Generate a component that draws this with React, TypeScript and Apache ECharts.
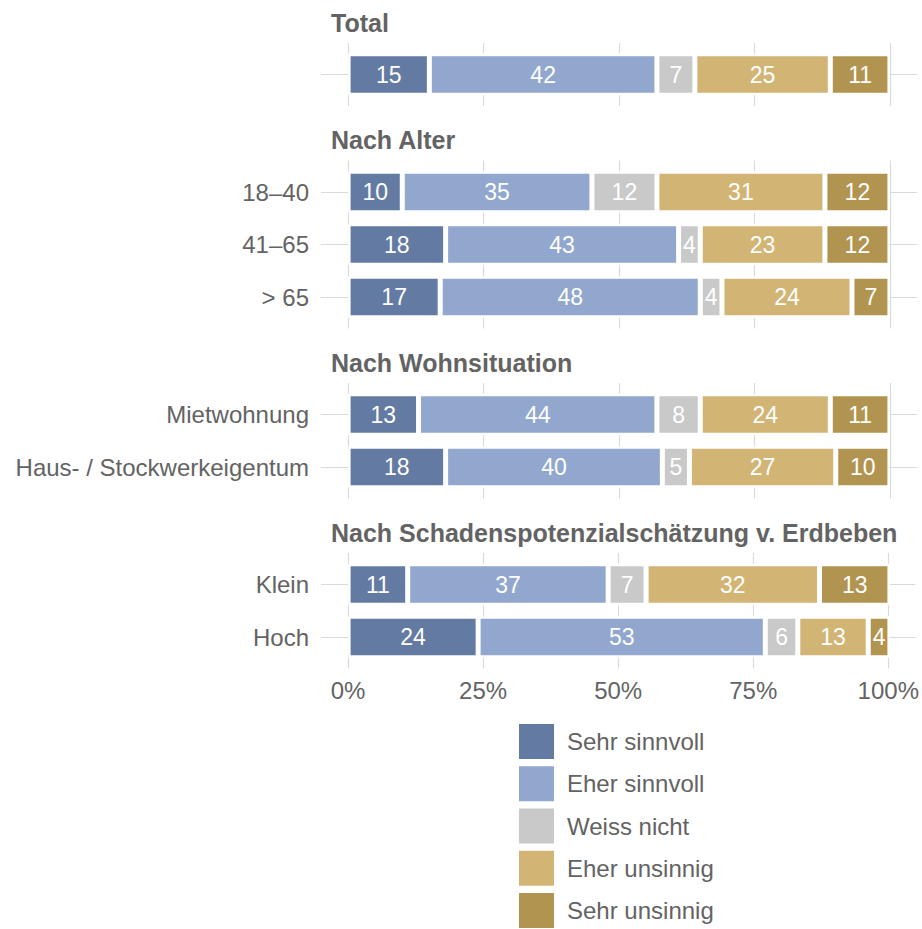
import React, { useEffect, useRef } from 'react';
import * as echarts from 'echarts';

const levels = ['Sehr sinnvoll', 'Eher sinnvoll', 'Weiss nicht', 'Eher unsinnig', 'Sehr unsinnig'];
const colors = ['#637ba3', '#91a7cd', '#c9c9c9', '#d2b574', '#b1944f'];

const panelTitles = ['Total', 'Nach Alter', 'Nach Wohnsituation', 'Nach Schadenspotenzialschätzung v. Erdbeben'];
const panelCategories = [
  [''],
  ['18–40', '41–65', '> 65'],
  ['Mietwohnung', 'Haus- / Stockwerkeigentum'],
  ['Klein', 'Hoch'],
];

// values per panel, per category
const sehrSinnvoll = [[15], [10, 18, 17], [13, 18], [11, 24]];
const eherSinnvoll = [[42], [35, 43, 48], [44, 40], [37, 53]];
const weissNicht = [[7], [12, 4, 4], [8, 5], [7, 6]];
const eherUnsinnig = [[25], [31, 23, 24], [24, 27], [32, 13]];
const sehrUnsinnig = [[11], [12, 12, 7], [11, 10], [13, 4]];
const levelValues = [sehrSinnvoll, eherSinnvoll, weissNicht, eherUnsinnig, sehrUnsinnig];

const xTicks = [0, 25, 50, 75, 100];

const FONT = 'Liberation Sans, Arial, sans-serif';
const TEXT = '#636363';
const GRID = '#dadada';

function buildOption() {
  const STEP = 52.5;
  const GAP = 54.5;
  const LEFT = 321;
  const RIGHT = 5;
  let top = 43;
  const grid: any[] = [];
  const xAxis: any[] = [];
  const yAxis: any[] = [];
  const series: any[] = [];
  const graphic: any[] = [];

  panelCategories.forEach((cats, p) => {
    const n = cats.length;
    const h = (n + 0.2) * STEP;
    const bg = grid.length;
    const fg = bg + 1;
    const last = p === panelCategories.length - 1;

    graphic.push({
      type: 'text',
      x: 331,
      y: top - 20.5,
      silent: true,
      style: {
        text: panelTitles[p],
        fill: TEXT,
        fontSize: 25,
        fontWeight: 'bold',
        fontFamily: FONT,
        verticalAlign: 'middle',
        align: 'left',
      },
    });

    grid.push({ left: LEFT, right: RIGHT, top, height: h });
    grid.push({ left: LEFT, right: RIGHT, top: top + 0.1 * STEP, height: n * STEP });

    xAxis.push({
      type: 'value',
      gridIndex: bg,
      min: -5,
      max: 105,
      axisLine: { show: false },
      axisTick: { show: false, customValues: xTicks },
      splitLine: { show: true, lineStyle: { color: GRID, width: 1.2 } },
      axisLabel: {
        show: last,
        customValues: xTicks,
        formatter: '{value}%',
        fontSize: 24,
        color: TEXT,
        fontFamily: FONT,
        margin: 10,
      },
    });
    xAxis.push({
      type: 'value',
      gridIndex: fg,
      min: -5,
      max: 105,
      show: false,
      splitLine: { show: false },
    });

    yAxis.push({
      type: 'value',
      gridIndex: bg,
      min: -0.6,
      max: n - 0.4,
      inverse: true,
      axisLine: { show: false },
      axisTick: { show: false, customValues: cats.map((_, i) => i) },
      axisLabel: { show: false },
      splitLine: { show: true, lineStyle: { color: GRID, width: 1.2 } },
    });
    yAxis.push({
      type: 'category',
      gridIndex: fg,
      data: cats,
      inverse: true,
      axisLine: { show: false },
      axisTick: { show: false },
      splitLine: { show: false },
      axisLabel: { fontSize: 24, color: TEXT, fontFamily: FONT, margin: 12 },
    });

    levels.forEach((name, k) => {
      series.push({
        type: 'bar',
        name,
        xAxisIndex: fg,
        yAxisIndex: fg,
        stack: 'panel' + p,
        barWidth: 41.5,
        data: levelValues[k][p],
        itemStyle: { color: colors[k], borderColor: '#ffffff', borderWidth: 2.5 },
        label: {
          show: true,
          position: 'inside',
          color: '#ffffff',
          fontSize: 23,
          fontFamily: FONT,
        },
      });
    });

    top += h + GAP;
  });

  return {
    animation: false,
    textStyle: { fontFamily: FONT },
    grid,
    xAxis,
    yAxis,
    series,
    graphic,
    legend: {
      data: levels,
      orient: 'vertical',
      left: 519,
      top: 724,
      height: 205,
      padding: 0,
      itemWidth: 35,
      itemHeight: 35,
      itemGap: 7.25,
      icon: 'rect',
      selectedMode: false,
      itemStyle: { borderWidth: 0 },
      textStyle: { fontSize: 24, color: TEXT, fontFamily: FONT, padding: [0, 0, 0, 8] },
    },
  };
}

export default function App() {
  const ref = useRef<HTMLDivElement>(null);
  useEffect(() => {
    const chart = echarts.init(ref.current!, null, { renderer: 'svg' });
    chart.setOption(buildOption() as any);
    return () => chart.dispose();
  }, []);
  return (
    <div
      ref={ref}
      style={{ position: 'absolute', left: 0, top: 0, width: 922, height: 929 }}
    />
  );
}
